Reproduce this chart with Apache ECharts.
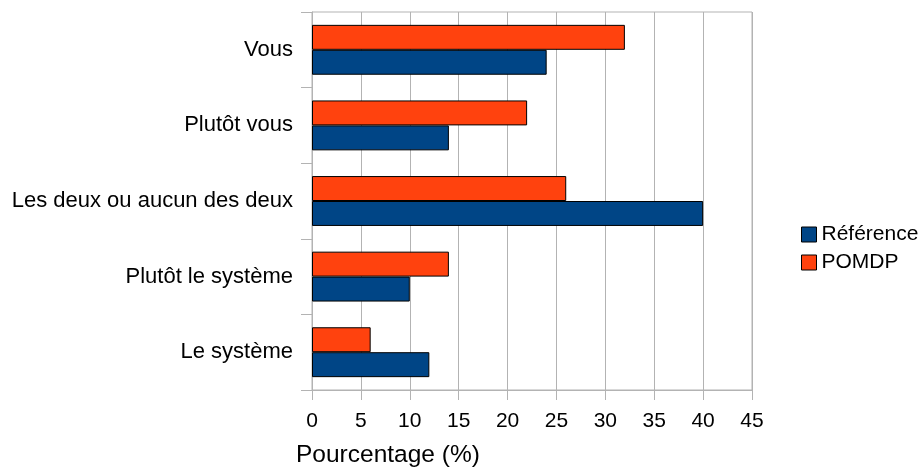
<!DOCTYPE html>
<html>
<head>
<meta charset="utf-8">
<script src="https://cdn.jsdelivr.net/npm/echarts@6/dist/echarts.min.js"></script>
<style>
  html, body { margin: 0; padding: 0; background: #fff; }
  #chart { width: 923px; height: 471px; }
</style>
</head>
<body>
<div id="chart"></div>
<script>
// Answer categories, listed bottom to top along the category axis
const categories = ['Le système', 'Plutôt le système', 'Les deux ou aucun des deux', 'Plutôt vous', 'Vous'];
// Percentages per answer
const referenceValues = [12, 10, 40, 14, 24];
const pomdpValues = [6, 14, 26, 22, 32];
const seriesNames = ['Référence', 'POMDP'];
const axisTitle = 'Pourcentage (%)';

const FONT = '"Liberation Sans", Arial, sans-serif';
const GRID_GRAY = '#b3b3b3';

const chart = echarts.init(document.getElementById('chart'), null, { renderer: 'canvas' });

chart.setOption({
  animation: false,
  backgroundColor: '#ffffff',
  textStyle: { fontFamily: FONT },
  title: {
    text: axisTitle,
    left: 296,
    top: 443,
    padding: 0,
    textStyle: { fontFamily: FONT, fontSize: 24.5, fontWeight: 'normal', color: '#000' }
  },
  legend: {
    orient: 'vertical',
    left: 796,
    top: 219,
    itemWidth: 15,
    itemHeight: 15,
    itemGap: 7,
    icon: 'rect',
    data: seriesNames,
    itemStyle: { borderColor: '#000', borderWidth: 1 },
    textStyle: { fontFamily: FONT, fontSize: 21, color: '#000' }
  },
  grid: {
    left: 312,
    right: 171,
    top: 12,
    bottom: 81,
    show: true,
    borderColor: GRID_GRAY,
    borderWidth: 1
  },
  xAxis: {
    type: 'value',
    min: 0,
    max: 45,
    interval: 5,
    axisLine: { show: true, lineStyle: { color: GRID_GRAY } },
    axisTick: { show: true, length: 10, lineStyle: { color: GRID_GRAY } },
    splitLine: { show: true, lineStyle: { color: GRID_GRAY } },
    axisLabel: { fontFamily: FONT, fontSize: 21, color: '#000', margin: 21 }
  },
  yAxis: {
    type: 'category',
    data: categories,
    axisLine: { show: true, lineStyle: { color: GRID_GRAY } },
    axisTick: { show: true, length: 11, lineStyle: { color: GRID_GRAY } },
    splitLine: { show: false },
    axisLabel: { fontFamily: FONT, fontSize: 22, color: '#000', margin: 19 }
  },
  // POMDP is listed first so its bar sits above the Référence bar in each band
  series: [
    {
      name: seriesNames[1],
      type: 'bar',
      data: pomdpValues,
      barGap: '0%',
      barCategoryGap: '34%',
      itemStyle: { color: '#ff420e', borderColor: '#000', borderWidth: 1 }
    },
    {
      name: seriesNames[0],
      type: 'bar',
      data: referenceValues,
      barGap: '0%',
      barCategoryGap: '34%',
      itemStyle: { color: '#004586', borderColor: '#000', borderWidth: 1 }
    }
  ]
});
</script>
</body>
</html>
